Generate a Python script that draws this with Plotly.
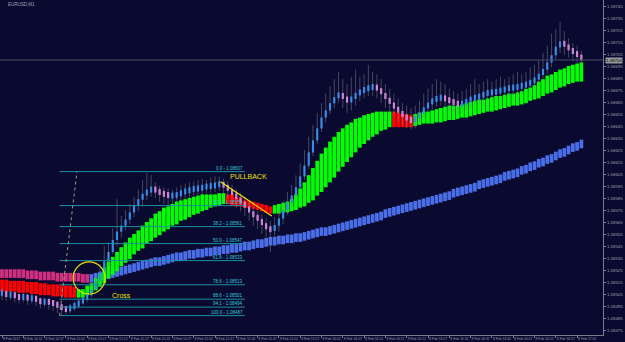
import plotly.graph_objects as go

BASE = 1.08
PT = 1e-5  # one price point

# x-axis time labels (every 5 one-minute bars)
tick_labels = ["8 Feb 2017", "8 Feb 14:52", "8 Feb 14:57", "8 Feb 15:02", "8 Feb 15:07",
               "8 Feb 15:12", "8 Feb 15:17", "8 Feb 15:22", "8 Feb 15:27", "8 Feb 15:32",
               "8 Feb 15:37", "8 Feb 15:42", "8 Feb 15:47", "8 Feb 15:52", "8 Feb 15:57",
               "8 Feb 16:02", "8 Feb 16:07", "8 Feb 16:12", "8 Feb 16:17", "8 Feb 16:22",
               "8 Feb 16:27", "8 Feb 16:32", "8 Feb 16:37", "8 Feb 16:42", "8 Feb 16:47",
               "8 Feb 16:52", "8 Feb 16:57", "8 Feb 17:02"]

# prices in points above 1.08000
close_pts = [506,504,505,503,502,503,501,502,500,498,499,498,497,495,493,492,494,496,498,501,
             504,509,516,523,532,540,550,557,562,567,573,579,584,588,591,593,591,589,588,587,
             587,588,590,591,592,593,593,594,595,595,596,597,595,592,588,585,581,578,573,570,
             567,563,560,558,562,568,575,581,587,594,603,612,623,633,643,652,658,664,669,672,
             668,666,668,672,674,676,677,678,676,672,668,664,660,657,653,651,649,652,656,660,
             664,667,668,669,667,666,664,663,664,666,668,669,670,672,673,673,674,675,676,677,
             677,678,679,680,682,684,688,692,698,704,711,715,712,709,706,704,700]
high_pts = [510,508,508,507,505,506,505,505,504,502,502,501,500,499,497,495,497,499,502,505,
            508,514,522,530,545,548,560,584,570,575,580,586,592,600,606,604,598,595,594,593,
            592,594,596,597,598,599,600,601,600,602,603,603,601,599,596,592,589,586,582,578,
            574,571,568,566,569,575,583,590,596,604,614,625,636,646,656,664,672,678,684,690,
            684,680,686,692,686,688,696,690,688,684,680,676,672,668,664,662,660,662,666,672,
            676,680,684,682,680,676,674,672,674,676,680,684,680,682,684,682,684,686,684,686,
            688,690,688,690,694,696,700,706,712,722,726,732,724,718,714,712,708]
low_pts = [500,499,500,498,497,498,496,497,495,493,494,492,491,489,487,488,489,491,493,496,
           498,502,508,514,520,528,538,545,552,558,563,569,574,579,583,586,585,582,580,579,
           580,581,583,584,585,586,587,588,589,589,590,591,589,585,581,577,574,570,566,562,
           559,555,548,540,552,557,563,571,578,584,592,600,609,620,630,640,648,655,660,664,
           660,656,658,662,666,668,670,670,668,664,660,656,652,648,646,643,642,643,648,652,
           656,659,661,662,660,658,656,654,656,658,660,662,663,664,665,666,667,668,669,670,
           670,671,672,673,675,677,680,684,688,694,700,706,704,702,699,697,694]
ribbon_top_pts = [517,517,516,516,516,516,515,515,515,514,514,513,513,513,512,512,512,511,509,509,
                  512,514,518,522,527,532,536,540,544,548,552,555,558,562,565,568,572,574,577,578,
                  580,582,583,584,585,586,587,588,588,588,588,589,589,588,588,586,585,583,583,582,
                  581,580,579,578,579,580,581,582,584,588,593,598,604,610,616,622,627,632,636,640,
                  643,646,648,651,652,654,655,656,657,657,657,657,657,656,655,655,654,655,656,657,
                  657,658,659,660,661,662,662,662,663,664,665,666,667,667,668,669,670,670,671,672,
                  672,673,674,676,677,679,682,684,687,688,690,692,693,695,696,697,698]
ribbon_bot_pts = [507,507,507,507,506,506,506,505,505,504,504,504,503,503,503,502,502,502,502,502,
                  504,506,508,511,514,518,521,524,528,531,534,538,541,543,547,549,552,554,557,559,
                  562,563,566,567,569,571,572,574,575,577,578,579,580,580,579,578,578,577,577,576,
                  575,574,573,572,572,572,573,573,574,575,577,578,581,583,587,590,594,598,602,607,
                  611,615,619,623,627,630,633,636,638,641,642,644,644,644,644,644,644,645,646,647,
                  647,647,648,648,649,650,650,651,652,652,653,654,655,656,657,657,658,659,660,661,
                  662,662,663,664,666,667,668,670,672,673,675,677,678,680,681,682,682]
slow_ma_pts = [522,522,522,522,522,522,521,521,521,520,520,520,520,519,519,519,519,519,519,518,
               518,518,519,520,520,521,522,523,524,525,526,527,528,529,530,531,532,532,533,534,
               535,536,536,537,538,538,539,539,540,540,541,541,542,542,543,543,544,545,545,546,
               547,547,548,549,549,550,550,551,551,552,552,553,554,555,556,557,557,558,559,560,
               561,562,563,564,565,566,567,568,569,570,572,573,574,575,576,577,578,579,580,581,
               582,583,584,585,586,587,589,590,591,592,593,594,596,597,598,599,600,601,603,604,
               605,606,608,609,611,612,614,615,617,618,620,622,623,625,627,628,630]
ribbon_runs = [("red", 18), ("green", 35), ("red", 11), ("green", 28), ("red", 5), ("green", 40)]
slow_runs = [("magenta", 21), ("blue", 116)]
fib_levels = [0.0, 23.6, 38.2, 50.0, 61.8, 78.6, 88.6, 94.1, 100.0]
fib_high_pts = 607
fib_low_pts = 487

BG = "#0a0a30"
COL = {"red": "#ff0000", "green": "#00ff00", "magenta": "#d0307f", "blue": "#4a6ee8"}
HA_UP, HA_DN = "#1e90ff", "#ee8aee"
AXIS_FONT = dict(size=3.4, color="#9a9aa8", family="Liberation Sans")


def price(p):
    return BASE + p * PT


n = len(close_pts)
xs = list(range(n))
close = [price(v) for v in close_pts]
high = [price(v) for v in high_pts]
low = [price(v) for v in low_pts]
opn = [close[0]] + close[:-1]

fig = go.Figure()

# grey candles: wicks + thin bodies
wx, wy = [], []
for i in xs:
    wx += [i, i, None]
    wy += [low[i], high[i], None]
fig.add_trace(go.Scatter(x=wx, y=wy, mode="lines", line=dict(color="rgba(130,130,140,0.5)", width=1),
                         hoverinfo="skip", showlegend=False))
fig.add_trace(go.Bar(x=xs, base=[min(o, c) for o, c in zip(opn, close)],
                     y=[max(abs(c - o), 1.5 * PT) for o, c in zip(opn, close)],
                     width=0.35, marker=dict(color="rgba(140,140,150,0.5)", line=dict(width=0)),
                     showlegend=False, hoverinfo="skip"))

# slow MA band
slow_cols = []
for c, k in slow_runs:
    slow_cols += [COL[c]] * k
half = 3.6 * PT
fig.add_trace(go.Bar(x=xs, base=[price(v) - half for v in slow_ma_pts], y=[2 * half] * n, width=0.88,
                     marker=dict(color=slow_cols, line=dict(width=0)), showlegend=False, hoverinfo="skip"))

# fast ribbon
rib_cols = []
for c, k in ribbon_runs:
    rib_cols += [COL[c]] * k
fig.add_trace(go.Bar(x=xs, base=[price(min(a, b)) for a, b in zip(ribbon_top_pts, ribbon_bot_pts)],
                     y=[abs(a - b) * PT for a, b in zip(ribbon_top_pts, ribbon_bot_pts)], width=0.88,
                     marker=dict(color=rib_cols, line=dict(width=0)), showlegend=False, hoverinfo="skip"))

# blue / pink price bars
hb, hh, hc = [], [], []
for o, c in zip(opn, close):
    lo, hi = min(o, c), max(o, c)
    if hi - lo < 5 * PT:
        mid = (hi + lo) / 2
        lo, hi = mid - 2.5 * PT, mid + 2.5 * PT
    hb.append(lo)
    hh.append(hi - lo)
    hc.append(HA_UP if c >= o else HA_DN)
fig.add_trace(go.Bar(x=xs, base=hb, y=hh, width=0.5, marker=dict(color=hc, line=dict(width=0)),
                     showlegend=False, hoverinfo="skip"))

shapes = []
annotations = []
# fibonacci levels
fib_x0, fib_x1 = 13.5, 57.0
for lv in fib_levels:
    p = price(fib_high_pts - lv / 100.0 * (fib_high_pts - fib_low_pts))
    shapes.append(dict(type="line", x0=fib_x0, x1=fib_x1, y0=p, y1=p, line=dict(color="#1b8fa0", width=1)))
    annotations.append(dict(x=fib_x1, y=p, text=f"{lv:.1f} - {p:.5f}", showarrow=False, xanchor="right",
                            yanchor="bottom", yshift=-1, font=dict(size=4.5, color="#35c8d8", family="Liberation Sans")))
# fib trend line (dotted)
shapes.append(dict(type="line", x0=13.5, y0=price(fib_low_pts), x1=17.6, y1=price(fib_high_pts),
                   line=dict(color="#a89878", width=1, dash="dot")))
# bid line
shapes.append(dict(type="line", xref="paper", x0=0, x1=1, y0=close[-1], y1=close[-1],
                   line=dict(color="#4a4a62", width=1)))
# yellow circle at the cross
shapes.append(dict(type="circle", x0=16.7, x1=24.2, y0=price(505), y1=price(531.7),
                   line=dict(color="#f0e000", width=1.2)))
# pullback line
shapes.append(dict(type="line", x0=51.3, y0=price(598.6), x1=63.3, y1=price(570),
                   line=dict(color="#f0e000", width=1.2)))

annotations.append(dict(x=25.4, y=price(504), text="Cross", showarrow=False, xanchor="left",
                        font=dict(size=7, color="#f0e000", family="Liberation Sans")))
annotations.append(dict(x=53.0, y=price(603), text="PULLBACK", showarrow=False, xanchor="left",
                        font=dict(size=7, color="#f0e000", family="Liberation Sans")))
annotations.append(dict(xref="paper", yref="paper", x=6 / 603, y=1 - 4 / 335, text="EURUSD,M1",
                        showarrow=False, xanchor="left", yanchor="middle",
                        font=dict(size=4.5, color="#a0a0b0", family="Liberation Sans")))
annotations.append(dict(xref="paper", x=1.0, y=close[-1], text=f"{close[-1]:.5f}", showarrow=False,
                        xanchor="left", yanchor="middle", xshift=2, bgcolor="#9a9a9a", borderpad=0,
                        font=dict(size=4.4, color="#000000", family="Liberation Sans")))

fig.update_layout(
    width=625, height=342, margin=dict(l=0, r=22, t=0, b=7, autoexpand=False),
    paper_bgcolor=BG, plot_bgcolor=BG, barmode="overlay", showlegend=False,
    shapes=shapes, annotations=annotations,
    xaxis=dict(range=[-0.469, 141.08], showgrid=False, zeroline=False, showline=True, mirror=True,
               linecolor="#7a7a8a", linewidth=1, tickvals=list(range(0, 5 * len(tick_labels), 5)),
               ticktext=tick_labels, ticks="outside", ticklen=2, tickcolor="#7a7a8a",
               ticklabelposition="outside right", tickangle=0, automargin=False,
               tickfont=AXIS_FONT),
    yaxis=dict(range=[price(470.83), price(750)], side="right", showgrid=False, zeroline=False,
               showline=True, mirror=True, linecolor="#7a7a8a", linewidth=1, tick0=1.08475, dtick=0.0001,
               tickformat=".5f", ticks="outside", ticklen=2, tickcolor="#7a7a8a", automargin=False,
               tickfont=dict(size=4.4, color="#9a9aa8", family="Liberation Sans")),
)

fig.write_html("out.html")
